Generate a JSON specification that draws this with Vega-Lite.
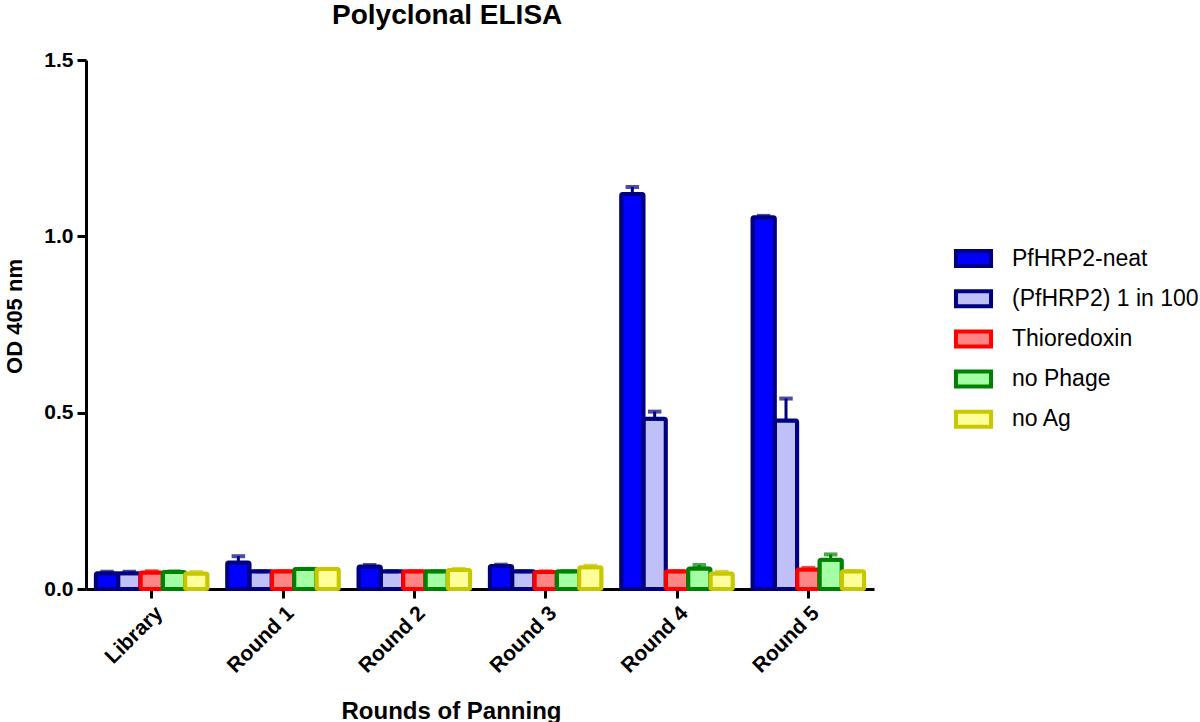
{
  "$schema": "https://vega.github.io/schema/vega-lite/v6.json",
  "width": 788,
  "height": 529,
  "autosize": {"type": "none"},
  "padding": {"left": 86, "top": 60, "right": 326, "bottom": 133},
  "background": "white",
  "title": {"text": "Polyclonal ELISA", "anchor": "start", "frame": "group", "dx": 246, "offset": -3, "fontSize": 28, "font": "Liberation Sans", "fontWeight": "bold", "color": "black", "baseline": "alphabetic"},
  "config": {
    "view": {"stroke": null},
    "font": "Liberation Sans"
  },
  "data": {"values": [
    {"round": "Library", "series": "PfHRP2-neat", "value": 0.045, "err": 0.004},
    {"round": "Library", "series": "(PfHRP2) 1 in 100", "value": 0.045, "err": 0.004},
    {"round": "Library", "series": "Thioredoxin", "value": 0.047, "err": 0.003},
    {"round": "Library", "series": "no Phage", "value": 0.048, "err": 0.002},
    {"round": "Library", "series": "no Ag", "value": 0.044, "err": 0.004},
    {"round": "Round 1", "series": "PfHRP2-neat", "value": 0.075, "err": 0.018},
    {"round": "Round 1", "series": "(PfHRP2) 1 in 100", "value": 0.05, "err": 0.0},
    {"round": "Round 1", "series": "Thioredoxin", "value": 0.05, "err": 0.0},
    {"round": "Round 1", "series": "no Phage", "value": 0.057, "err": 0.0},
    {"round": "Round 1", "series": "no Ag", "value": 0.057, "err": 0.0},
    {"round": "Round 2", "series": "PfHRP2-neat", "value": 0.064, "err": 0.004},
    {"round": "Round 2", "series": "(PfHRP2) 1 in 100", "value": 0.05, "err": 0.0},
    {"round": "Round 2", "series": "Thioredoxin", "value": 0.05, "err": 0.0},
    {"round": "Round 2", "series": "no Phage", "value": 0.05, "err": 0.0},
    {"round": "Round 2", "series": "no Ag", "value": 0.054, "err": 0.003},
    {"round": "Round 3", "series": "PfHRP2-neat", "value": 0.065, "err": 0.004},
    {"round": "Round 3", "series": "(PfHRP2) 1 in 100", "value": 0.05, "err": 0.0},
    {"round": "Round 3", "series": "Thioredoxin", "value": 0.048, "err": 0.002},
    {"round": "Round 3", "series": "no Phage", "value": 0.05, "err": 0.0},
    {"round": "Round 3", "series": "no Ag", "value": 0.062, "err": 0.004},
    {"round": "Round 4", "series": "PfHRP2-neat", "value": 1.12, "err": 0.02},
    {"round": "Round 4", "series": "(PfHRP2) 1 in 100", "value": 0.483, "err": 0.02},
    {"round": "Round 4", "series": "Thioredoxin", "value": 0.05, "err": 0.0},
    {"round": "Round 4", "series": "no Phage", "value": 0.058, "err": 0.01},
    {"round": "Round 4", "series": "no Ag", "value": 0.044, "err": 0.005},
    {"round": "Round 5", "series": "PfHRP2-neat", "value": 1.054, "err": 0.004},
    {"round": "Round 5", "series": "(PfHRP2) 1 in 100", "value": 0.478, "err": 0.062},
    {"round": "Round 5", "series": "Thioredoxin", "value": 0.055, "err": 0.005},
    {"round": "Round 5", "series": "no Phage", "value": 0.083, "err": 0.015},
    {"round": "Round 5", "series": "no Ag", "value": 0.05, "err": 0.0}
  ]},
  "transform": [{"calculate": "datum.value + datum.err", "as": "hi"}],
  "encoding": {
    "x": {"field": "round", "type": "nominal", "sort": null,
      "scale": {"paddingInner": 0.15, "paddingOuter": 0.075},
      "axis": {"title": "Rounds of Panning", "titleFontSize": 24, "titleFontWeight": "bold", "titleColor": "black",
        "titleX": 365, "titleY": 129, "titleBaseline": "alphabetic",
        "labelAngle": -45, "labelFontSize": 21, "labelFontWeight": "bold", "labelColor": "black", "labelPadding": 4,
        "domainColor": "black", "domainWidth": 3, "tickColor": "black", "tickWidth": 3, "tickSize": 9}},
    "xOffset": {"field": "series", "type": "nominal", "sort": null, "scale": {"paddingInner": 0, "paddingOuter": 0}}
  },
  "layer": [
    {
      "mark": {"type": "bar", "strokeWidth": 4, "cornerRadius": 1.5},
      "encoding": {
        "y": {"field": "value", "type": "quantitative",
          "scale": {"domain": [0, 1.5], "nice": false},
          "axis": {"title": "OD 405 nm", "titleFontSize": 22, "titleFontWeight": "bold", "titleColor": "black",
            "titleX": -72, "titleY": 256, "titleAlign": "center", "titleBaseline": "middle", "titleAngle": -90,
            "values": [0, 0.5, 1.0, 1.5], "format": ".1f", "grid": false,
            "labelFontSize": 21, "labelFontWeight": "bold", "labelColor": "black", "labelPadding": 4,
            "domainColor": "black", "domainWidth": 3, "tickColor": "black", "tickWidth": 3, "tickSize": 9}},
        "fill": {"field": "series", "type": "nominal", "sort": null,
          "scale": {"domain": ["PfHRP2-neat", "(PfHRP2) 1 in 100", "Thioredoxin", "no Phage", "no Ag"],
                    "range": ["#0000FF", "#C0C0F8", "#FF8484", "#A4FFA4", "#FFFF99"]},
          "legend": {"title": null, "orient": "none", "legendX": 870.5, "legendY": 181.5, "padding": 0,
            "symbolType": "M-1.17,-0.5H1.17V0.5H-1.17Z", "symbolSize": 900, "symbolStrokeWidth": 4,
            "rowPadding": 7.2, "labelOffset": 21.5, "labelFontSize": 23, "labelColor": "black", "labelLimit": 300}},
        "stroke": {"field": "series", "type": "nominal", "sort": null,
          "scale": {"domain": ["PfHRP2-neat", "(PfHRP2) 1 in 100", "Thioredoxin", "no Phage", "no Ag"],
                    "range": ["#000080", "#000080", "#FF0000", "#008000", "#C8C800"]},
          "legend": {"title": null, "orient": "none", "legendX": 870.5, "legendY": 181.5, "padding": 0,
            "symbolType": "M-1.17,-0.5H1.17V0.5H-1.17Z", "symbolSize": 900, "symbolStrokeWidth": 4,
            "rowPadding": 7.2, "labelOffset": 21.5, "labelFontSize": 23, "labelColor": "black", "labelLimit": 300}}
      }
    },
    {
      "mark": {"type": "rule", "strokeWidth": 3},
      "encoding": {
        "y": {"field": "value", "type": "quantitative"},
        "y2": {"field": "hi"},
        "stroke": {"field": "series", "type": "nominal", "sort": null, "legend": null}
      }
    },
    {
      "mark": {"type": "tick", "thickness": 0.5, "size": 10, "filled": false, "strokeWidth": 3.5},
      "encoding": {
        "y": {"field": "hi", "type": "quantitative"},
        "stroke": {"field": "series", "type": "nominal", "sort": null, "legend": null}
      }
    }
  ]
}
